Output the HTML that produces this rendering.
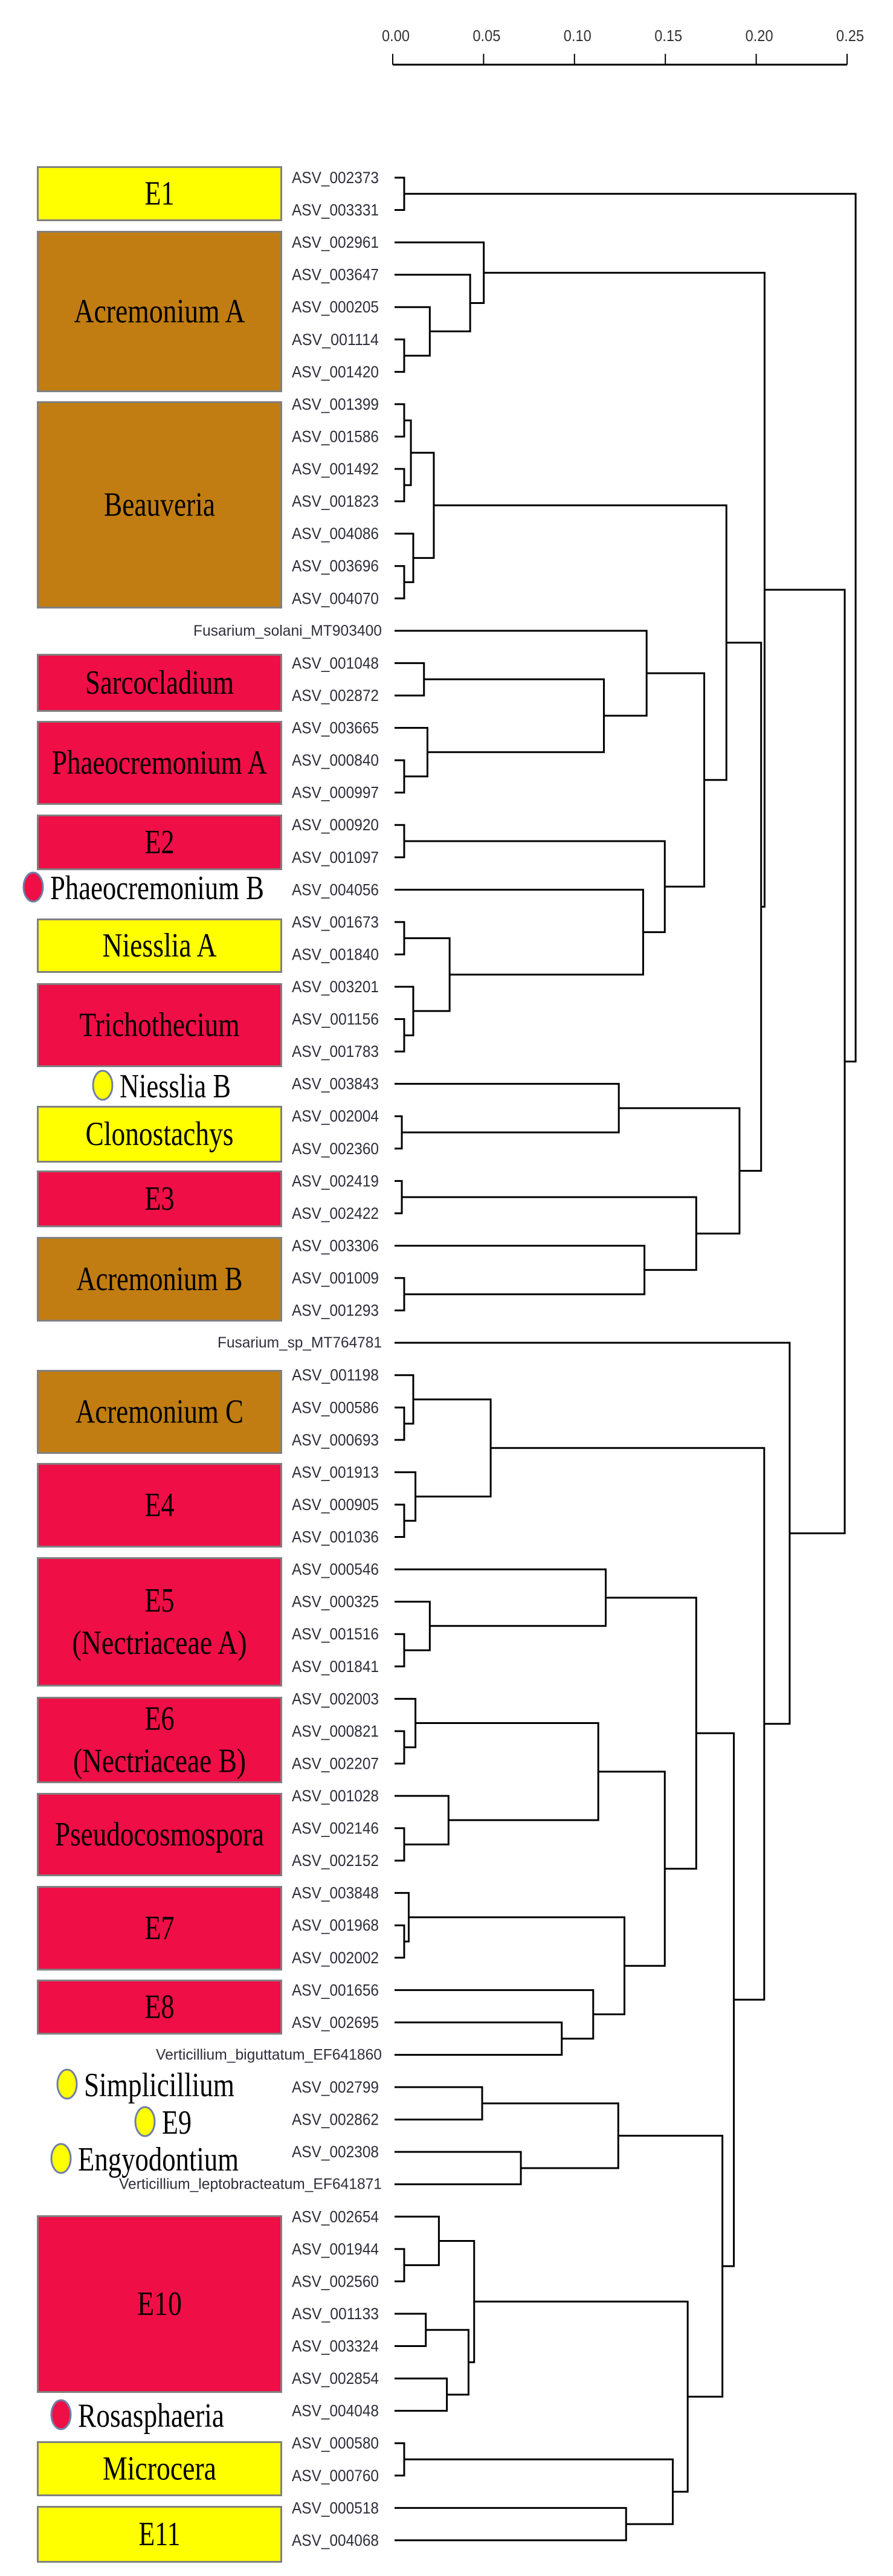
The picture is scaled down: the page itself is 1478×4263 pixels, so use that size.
<!DOCTYPE html>
<html><head><meta charset="utf-8"><style>
html,body{margin:0;padding:0;background:#fff;}
svg{display:block;}
</style></head><body>
<svg id="chart" width="1478" height="4263" viewBox="0 0 1478 4263" xmlns="http://www.w3.org/2000/svg"></svg>
<script>
const leafNames = ["ASV_002373","ASV_003331","ASV_002961","ASV_003647","ASV_000205","ASV_001114","ASV_001420","ASV_001399","ASV_001586","ASV_001492","ASV_001823","ASV_004086","ASV_003696","ASV_004070","Fusarium_solani_MT903400","ASV_001048","ASV_002872","ASV_003665","ASV_000840","ASV_000997","ASV_000920","ASV_001097","ASV_004056","ASV_001673","ASV_001840","ASV_003201","ASV_001156","ASV_001783","ASV_003843","ASV_002004","ASV_002360","ASV_002419","ASV_002422","ASV_003306","ASV_001009","ASV_001293","Fusarium_sp_MT764781","ASV_001198","ASV_000586","ASV_000693","ASV_001913","ASV_000905","ASV_001036","ASV_000546","ASV_000325","ASV_001516","ASV_001841","ASV_002003","ASV_000821","ASV_002207","ASV_001028","ASV_002146","ASV_002152","ASV_003848","ASV_001968","ASV_002002","ASV_001656","ASV_002695","Verticillium_biguttatum_EF641860","ASV_002799","ASV_002862","ASV_002308","Verticillium_leptobracteatum_EF641871","ASV_002654","ASV_001944","ASV_002560","ASV_001133","ASV_003324","ASV_002854","ASV_004048","ASV_000580","ASV_000760","ASV_000518","ASV_004068"];
const mergeIds = ["m1","m2","m3","m4","m5","m6","m7","m8","m9","m10","m11","m12","m13","m14","m15","m16","m17","m18","m19","m20","m21","m22","m23","m24","m25","m26","m27","m28","m29","m30","m31","m32","m33","m34","m35","m36","m37","m38","m39","m40","m41","m42","m43","m44","m45","m46","m47","m48","m49","m50","m51","m52","m53","m54","m55","m56","m57","m58","m59","m60","m61","m62","m63","m64","m65","m66","m67","m68","m69","m70","m71","m72","m73"];
const mergeLeft = ["ASV_002373","ASV_001114","ASV_000205","ASV_003647","ASV_002961","ASV_001399","ASV_001492","m6","ASV_003696","ASV_004086","m8","ASV_001048","ASV_000840","ASV_003665","m12","Fusarium_solani_MT903400","ASV_000920","ASV_001673","ASV_001156","ASV_003201","m18","ASV_004056","m17","m16","m11","ASV_002004","ASV_003843","ASV_002419","ASV_001009","ASV_003306","m28","m27","m25","m5","ASV_000586","ASV_001198","ASV_000905","ASV_001913","m36","ASV_001516","ASV_000325","ASV_000546","ASV_000821","ASV_002003","ASV_002146","ASV_001028","m44","ASV_001968","ASV_003848","ASV_002695","ASV_001656","m49","m47","m42","ASV_002799","ASV_002308","m55","ASV_001944","ASV_002654","ASV_001133","ASV_002854","m60","m59","ASV_000580","ASV_000518","m64","m63","m57","m54","m39","Fusarium_sp_MT764781","m34","m1"];
const mergeRight = ["ASV_003331","ASV_001420","m2","m3","m4","ASV_001586","ASV_001823","m7","ASV_004070","m9","m10","ASV_002872","ASV_000997","m13","m14","m15","ASV_001097","ASV_001840","ASV_001783","m19","m20","m21","m22","m23","m24","ASV_002360","m26","ASV_002422","ASV_001293","m29","m30","m31","m32","m33","ASV_000693","m35","ASV_001036","m37","m38","ASV_001841","m40","m41","ASV_002207","m43","ASV_002152","m45","m46","ASV_002002","m48","Verticillium_biguttatum_EF641860","m50","m51","m52","m53","ASV_002862","Verticillium_leptobracteatum_EF641871","m56","ASV_002560","m58","ASV_003324","ASV_004048","m61","m62","ASV_000760","ASV_004068","m65","m66","m67","m68","m69","m70","m71","m72"];
const mergeHeights = [0.0063,0.0063,0.0204,0.0426,0.0501,0.0063,0.0063,0.010,0.0063,0.0113,0.0226,0.0172,0.0063,0.0191,0.1162,0.1397,0.0063,0.0063,0.0063,0.0113,0.0313,0.1378,0.1497,0.1714,0.1836,0.005,0.1244,0.005,0.0063,0.1385,0.167,0.1908,0.2027,0.2046,0.0063,0.0113,0.0063,0.0125,0.0539,0.0063,0.0204,0.1172,0.0063,0.0125,0.0063,0.0307,0.1131,0.0063,0.0088,0.093,0.1103,0.1275,0.1497,0.167,0.0492,0.0705,0.1241,0.0063,0.0254,0.0182,0.0298,0.0417,0.0448,0.0063,0.1284,0.1541,0.1623,0.1814,0.1877,0.2044,0.2184,0.2487,0.2547];
const tickValues = [0,0.05,0.10,0.15,0.20,0.25];
const tickLabels = ["0.00","0.05","0.10","0.15","0.20","0.25"];
const groupNames = ["E1","Acremonium A","Beauveria","Sarcocladium","Phaeocremonium A","E2","Niesslia A","Trichothecium","Clonostachys","E3","Acremonium B","Acremonium C","E4","E5|(Nectriaceae A)","E6|(Nectriaceae B)","Pseudocosmospora","E7","E8","E10","Microcera","E11"];
const groupColors = ["y","b","b","r","r","r","y","r","y","r","b","b","r","r","r","r","r","r","r","y","y"];
const markerNames = ["Phaeocremonium B","Niesslia B","Simplicillium","E9","Engyodontium","Rosasphaeria"];
const markerColors = ["r","y","y","y","y","r"];

// layout (not data)
const boxTop = [275,382,664,1082,1193,1348,1520,1627,1830,1937,2047,2267,2421,2577,2808,2967,3121,3276,3666,4040,4147];
const boxBot = [366,649,1007,1178,1332,1440,1610,1766,1924,2031,2187,2406,2561,2791,2951,3105,3261,3367,3960,4131,4241];
const boxTextW = [49,283,184,246,356,49,189,265,245,49,275,278,49,"289","286",346,49,49,74,188,69];
const markerCx = [55,170,111,240,101,101];
const markerCy = [1468,1796,3449,3511,3572,3996];
const markerTextW = [354,184,249,49,266,242];
const COL = {y:"#FFFF00", b:"#C17D12", r:"#F00E46"};

const NS = "http://www.w3.org/2000/svg";
const svg = document.getElementById("chart");
function mk(tag, attrs){ const e=document.createElementNS(NS,tag); for(const k in attrs) e.setAttribute(k,attrs[k]); svg.appendChild(e); return e; }
const X0 = 650, X25 = 1402;
function xs(d){ return X0 + d*(X25-X0)/0.25; }
const LEAF_X = 653, Y0 = 294, DY = 53.56;
function ys(i){ return Y0 + i*DY; }

// axis
const axisLine = mk("line",{x1:xs(0),y1:107,x2:xs(0.25),y2:107,stroke:"#000","stroke-width":3});


tickValues.forEach((v,i)=>{
  const t = mk("line",{x1:xs(v),y1:89,x2:xs(v),y2:107,stroke:"#000","stroke-width":2});
  
  
  const lb = mk("text",{x:xs(v)+5,y:59,"text-anchor":"middle","dominant-baseline":"central","font-family":"Liberation Sans, sans-serif","font-size":26,fill:"#333",textLength:46,lengthAdjust:"spacingAndGlyphs"});
  lb.textContent = tickLabels[i];
  
  
});

// boxes
groupNames.forEach((g,i)=>{
  const r = mk("rect",{x:62.5,y:boxTop[i]+1.5,width:403,height:boxBot[i]-boxTop[i]-3,fill:COL[groupColors[i]],stroke:"#808080","stroke-width":3});
  
  
  const parts = g.split("|");
  const cy = (boxTop[i]+boxBot[i])/2;
  parts.forEach((p,k)=>{
    const yy = parts.length===1 ? cy : cy + (k===0?-35:35);
    const w = parts.length===1 ? boxTextW[i] : (k===0?49:Number(boxTextW[i]));
    const t = mk("text",{x:264,y:yy,"text-anchor":"middle","dominant-baseline":"central","font-family":"Liberation Serif, serif","font-size":56,fill:"#000",textLength:w,lengthAdjust:"spacingAndGlyphs"});
    t.textContent = p;
    
    
  });
});
// markers
markerNames.forEach((m,i)=>{
  const c = mk("ellipse",{cx:markerCx[i],cy:markerCy[i],rx:16,ry:24,fill:COL[markerColors[i]],stroke:"#6f7fa6","stroke-width":3});
  
  
  const t = mk("text",{x:markerCx[i]+28,y:markerCy[i]+2,"dominant-baseline":"central","font-family":"Liberation Serif, serif","font-size":56,fill:"#000",textLength:markerTextW[i],lengthAdjust:"spacingAndGlyphs"});
  t.textContent = m;
  
  
});

// leaves
const pos = {};
leafNames.forEach((n,i)=>{
  pos[n] = {x:LEAF_X, y:ys(i)};
  const isRef = !n.startsWith("ASV");
  let w = 144, fs = 27;
  if(n.startsWith("Fusarium_solani")){w=312;fs=25;}
  else if(n.startsWith("Fusarium_sp")){w=272;fs=25;}
  else if(n.startsWith("Verticillium_bi")){w=374;fs=25;}
  else if(n.startsWith("Verticillium_le")){w=435;fs=25;}
  const t = mk("text",{x:isRef?632:627,y:ys(i),"text-anchor":"end","dominant-baseline":"central","font-family":"Liberation Sans, sans-serif","font-size":fs,fill:"#2e2e3a",textLength:w,lengthAdjust:"spacingAndGlyphs"});
  t.textContent = n;
  
  
});
// merges
mergeIds.forEach((id,i)=>{
  const a = pos[mergeLeft[i]], b = pos[mergeRight[i]];
  const x = xs(mergeHeights[i]);
  const y = (a.y+b.y)/2;
  const p = mk("path",{d:`M${a.x},${a.y}H${x}V${b.y}H${b.x}`,fill:"none",stroke:"#000","stroke-width":3});
  
  
  pos[id] = {x:x, y:y};
});
</script>
</body></html>
